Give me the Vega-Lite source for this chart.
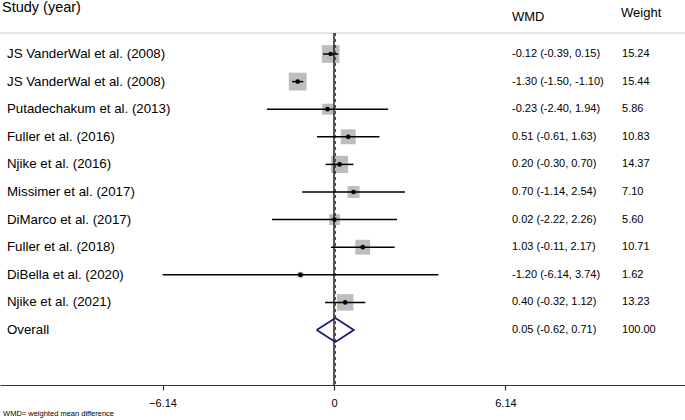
{
  "$schema": "https://vega.github.io/schema/vega-lite/v6.json",
  "width": 685,
  "height": 385,
  "autosize": {"type": "none"},
  "padding": {"left": 0, "top": 0, "right": 0, "bottom": 35},
  "background": "white",
  "config": {"view": {"stroke": null}, "font": "Liberation Sans"},
  "datasets": {
    "rows": [
      {"study": "JS VanderWal et al. (2008)", "row": 1, "type": "study", "est": -0.12, "lo": -0.39, "hi": 0.15, "wmd": "-0.12 (-0.39, 0.15)", "weight": 15.24, "wt": "15.24"},
      {"study": "JS VanderWal et al. (2008)", "row": 2, "type": "study", "est": -1.30, "lo": -1.50, "hi": -1.10, "wmd": "-1.30 (-1.50, -1.10)", "weight": 15.44, "wt": "15.44"},
      {"study": "Putadechakum et al. (2013)", "row": 3, "type": "study", "est": -0.23, "lo": -2.40, "hi": 1.94, "wmd": "-0.23 (-2.40, 1.94)", "weight": 5.86, "wt": "5.86"},
      {"study": "Fuller et al. (2016)", "row": 4, "type": "study", "est": 0.51, "lo": -0.61, "hi": 1.63, "wmd": "0.51 (-0.61, 1.63)", "weight": 10.83, "wt": "10.83"},
      {"study": "Njike et al. (2016)", "row": 5, "type": "study", "est": 0.20, "lo": -0.30, "hi": 0.70, "wmd": "0.20 (-0.30, 0.70)", "weight": 14.37, "wt": "14.37"},
      {"study": "Missimer et al. (2017)", "row": 6, "type": "study", "est": 0.70, "lo": -1.14, "hi": 2.54, "wmd": "0.70 (-1.14, 2.54)", "weight": 7.10, "wt": "7.10"},
      {"study": "DiMarco et al. (2017)", "row": 7, "type": "study", "est": 0.02, "lo": -2.22, "hi": 2.26, "wmd": "0.02 (-2.22, 2.26)", "weight": 5.60, "wt": "5.60"},
      {"study": "Fuller et al. (2018)", "row": 8, "type": "study", "est": 1.03, "lo": -0.11, "hi": 2.17, "wmd": "1.03 (-0.11, 2.17)", "weight": 10.71, "wt": "10.71"},
      {"study": "DiBella et al. (2020)", "row": 9, "type": "study", "est": -1.20, "lo": -6.14, "hi": 3.74, "wmd": "-1.20 (-6.14, 3.74)", "weight": 1.62, "wt": "1.62"},
      {"study": "Njike et al. (2021)", "row": 10, "type": "study", "est": 0.40, "lo": -0.32, "hi": 1.12, "wmd": "0.40 (-0.32, 1.12)", "weight": 13.23, "wt": "13.23"},
      {"study": "Overall", "row": 11, "type": "overall", "est": 0.05, "lo": -0.62, "hi": 0.71, "wmd": "0.05 (-0.62, 0.71)", "weight": 100.0, "wt": "100.00"}
    ],
    "diamond": [
      {"x": -0.62, "y": 11, "o": 0},
      {"x": 0.05, "y": 10.565, "o": 1},
      {"x": 0.71, "y": 11, "o": 2},
      {"x": 0.05, "y": 11.435, "o": 3},
      {"x": -0.62, "y": 11, "o": 4}
    ]
  },
  "layer": [
    {
      "data": {"name": "rows"},
      "mark": {"type": "rule", "color": "#c8c8c8", "strokeWidth": 1},
      "transform": [{"filter": "datum.row == 1"}],
      "encoding": {
        "x": {"datum": -11.96, "type": "quantitative", "scale": {"domain": [-11.96, 12.57], "nice": false, "zero": false},
          "axis": {"values": [-6.14, 0, 6.14], "labelExpr": "datum.value == 0 ? '0' : format(datum.value, '.2f')", "title": null, "grid": false, "domainColor": "#333333", "tickColor": "#333333", "tickSize": 5, "labelFontSize": 11, "labelColor": "#000000", "labelPadding": 7, "domainWidth": 1.2, "tickWidth": 1.2}},
        "x2": {"datum": 12.57},
        "y": {"datum": 0.24, "type": "quantitative", "scale": {"domain": [-0.957, 12.993], "reverse": true, "nice": false, "zero": false}, "axis": null}
      }
    },
    {
      "data": {"name": "rows"},
      "transform": [{"filter": "datum.type == 'study'"}],
      "mark": {"type": "point", "shape": "square", "filled": true, "color": "#bdbdbd", "opacity": 1},
      "encoding": {
        "x": {"field": "est", "type": "quantitative"},
        "y": {"field": "row", "type": "quantitative"},
        "size": {"field": "weight", "type": "quantitative", "scale": {"domain": [0, 20], "range": [0, 410]}, "legend": null}
      }
    },
    {
      "data": {"name": "rows"},
      "transform": [{"filter": "datum.row == 1"}],
      "mark": {"type": "rule", "color": "#000000", "strokeWidth": 1.3},
      "encoding": {
        "x": {"datum": 0, "type": "quantitative"},
        "y": {"datum": 0.24, "type": "quantitative"},
        "y2": {"datum": 12.993}
      }
    },
    {
      "data": {"name": "rows"},
      "transform": [{"filter": "datum.row == 1"}],
      "mark": {"type": "rule", "color": "#8b2b2b", "strokeWidth": 1.3, "strokeDash": [3, 3]},
      "encoding": {
        "x": {"datum": 0.05, "type": "quantitative"},
        "y": {"datum": 0.24, "type": "quantitative"},
        "y2": {"datum": 12.993}
      }
    },
    {
      "data": {"name": "rows"},
      "transform": [{"filter": "datum.type == 'study'"}],
      "mark": {"type": "rule", "color": "#000000", "strokeWidth": 1.5},
      "encoding": {
        "x": {"field": "lo", "type": "quantitative"},
        "x2": {"field": "hi"},
        "y": {"field": "row", "type": "quantitative"}
      }
    },
    {
      "data": {"name": "rows"},
      "transform": [{"filter": "datum.type == 'study'"}],
      "mark": {"type": "point", "shape": "circle", "filled": true, "color": "#000000", "size": 22, "opacity": 1},
      "encoding": {
        "x": {"field": "est", "type": "quantitative"},
        "y": {"field": "row", "type": "quantitative"}
      }
    },
    {
      "data": {"name": "diamond"},
      "mark": {"type": "line", "color": "#1a1a78", "strokeWidth": 1.8, "strokeJoin": "miter"},
      "encoding": {
        "x": {"field": "x", "type": "quantitative"},
        "y": {"field": "y", "type": "quantitative"},
        "order": {"field": "o", "type": "quantitative"}
      }
    },
    {
      "data": {"name": "rows"},
      "mark": {"type": "text", "align": "left", "baseline": "middle", "fontSize": 13.3, "color": "#000000"},
      "encoding": {
        "x": {"datum": -11.71, "type": "quantitative"},
        "y": {"field": "row", "type": "quantitative"},
        "text": {"field": "study"}
      }
    },
    {
      "data": {"name": "rows"},
      "mark": {"type": "text", "align": "left", "baseline": "middle", "fontSize": 11, "color": "#000000"},
      "encoding": {
        "x": {"datum": 6.375, "type": "quantitative"},
        "y": {"field": "row", "type": "quantitative"},
        "text": {"field": "wmd"}
      }
    },
    {
      "data": {"name": "rows"},
      "mark": {"type": "text", "align": "left", "baseline": "middle", "fontSize": 11, "color": "#000000"},
      "encoding": {
        "x": {"datum": 10.315, "type": "quantitative"},
        "y": {"field": "row", "type": "quantitative"},
        "text": {"field": "wt"}
      }
    },
    {
      "data": {"name": "rows"},
      "transform": [{"filter": "datum.row == 1"}],
      "mark": {"type": "text", "align": "left", "baseline": "top", "fontSize": 14.5, "color": "#000000", "text": "Study (year)"},
      "encoding": {
        "x": {"datum": -11.89, "type": "quantitative"},
        "y": {"datum": -0.93, "type": "quantitative"}
      }
    },
    {
      "data": {"name": "rows"},
      "transform": [{"filter": "datum.row == 1"}],
      "mark": {"type": "text", "align": "left", "baseline": "middle", "fontSize": 13, "color": "#000000", "text": "WMD"},
      "encoding": {
        "x": {"datum": 6.375, "type": "quantitative"},
        "y": {"datum": -0.34, "type": "quantitative"}
      }
    },
    {
      "data": {"name": "rows"},
      "transform": [{"filter": "datum.row == 1"}],
      "mark": {"type": "text", "align": "left", "baseline": "middle", "fontSize": 13, "color": "#000000", "text": "Weight"},
      "encoding": {
        "x": {"datum": 10.28, "type": "quantitative"},
        "y": {"datum": -0.47, "type": "quantitative"}
      }
    },
    {
      "data": {"name": "rows"},
      "transform": [{"filter": "datum.row == 1"}],
      "mark": {"type": "text", "align": "left", "baseline": "middle", "fontSize": 7.5, "color": "#000000", "text": "WMD= weighted mean difference", "clip": false},
      "encoding": {
        "x": {"datum": -11.85, "type": "quantitative"},
        "y": {"datum": 14.05, "type": "quantitative"}
      }
    }
  ]
}
